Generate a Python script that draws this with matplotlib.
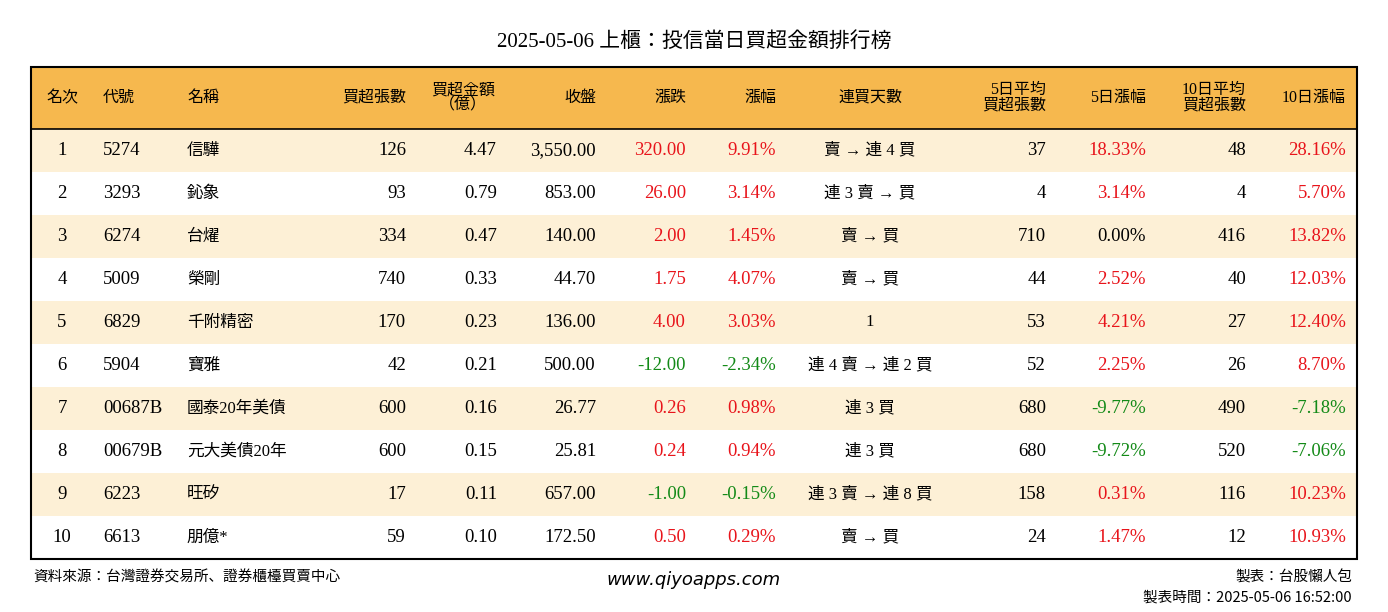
import matplotlib
matplotlib.use("Agg")
import matplotlib.pyplot as plt
from matplotlib.patches import Rectangle
from matplotlib import font_manager

title = "2025-05-06 上櫃：投信當日買超金額排行榜"
headers = ["名次", "代號", "名稱", "買超張數", "買超金額\n（億）", "收盤", "漲跌", "漲幅", "連買天數",
           "5日平均\n買超張數", "5日漲幅", "10日平均\n買超張數", "10日漲幅"]
ranks = [1, 2, 3, 4, 5, 6, 7, 8, 9, 10]
codes = ["5274", "3293", "6274", "5009", "6829", "5904", "00687B", "00679B", "6223", "6613"]
names = ["信驊", "鈊象", "台燿", "榮剛", "千附精密", "寶雅", "國泰20年美債", "元大美債20年", "旺矽", "朋億*"]
buy_vol = [126, 93, 334, 740, 170, 42, 600, 600, 17, 59]
buy_amt = [4.47, 0.79, 0.47, 0.33, 0.23, 0.21, 0.16, 0.15, 0.11, 0.10]
close = [3550.00, 853.00, 140.00, 44.70, 136.00, 500.00, 26.77, 25.81, 657.00, 172.50]
change = [320.00, 26.00, 2.00, 1.75, 4.00, -12.00, 0.26, 0.24, -1.00, 0.50]
pct = [9.91, 3.14, 1.45, 4.07, 3.03, -2.34, 0.98, 0.94, -0.15, 0.29]
streak = ["賣 → 連 4 買", "連 3 賣 → 買", "賣 → 買", "賣 → 買", "1", "連 4 賣 → 連 2 買",
          "連 3 買", "連 3 買", "連 3 賣 → 連 8 買", "賣 → 買"]
avg5 = [37, 4, 710, 44, 53, 52, 680, 680, 158, 24]
pct5 = [18.33, 3.14, 0.00, 2.52, 4.21, 2.25, -9.77, -9.72, 0.31, 1.47]
avg10 = [48, 4, 416, 40, 27, 26, 490, 520, 116, 12]
pct10 = [28.16, 5.70, 13.82, 12.03, 12.40, 8.70, -7.18, -7.06, 10.23, 10.93]

names_avail = {f.name for f in font_manager.fontManager.ttflist}
CJK = next((n for n in ["Noto Sans CJK TC", "Noto Sans CJK JP", "Noto Sans CJK SC"] if n in names_avail),
           "Noto Sans CJK JP")
SERIF = "Liberation Serif"
RED, GREEN = "#E8141B", "#138A17"

def col(v):
    return RED if v > 0 else (GREEN if v < 0 else "black")

fig = plt.figure(figsize=(13.88, 6.12), dpi=100)
ax = fig.add_axes([0, 0, 1, 1])
ax.set_xlim(0, 1388); ax.set_ylim(612, 0); ax.axis("off")

ax.text(694, 42, title, ha="center", va="center", fontsize=15, fontfamily=[SERIF, CJK])

L, R, T, HB = 31, 1357, 67, 129
rh = 43
ax.add_patch(Rectangle((L, T), R - L, HB - T, facecolor="#F6B84E", edgecolor="none"))
for i in range(len(ranks)):
    if i % 2 == 0:
        ax.add_patch(Rectangle((L, HB + i * rh), R - L, rh, facecolor="#FDF0D6", edgecolor="none"))
bottom = HB + len(ranks) * rh
ax.add_patch(Rectangle((L, T), R - L, bottom - T, facecolor="none", edgecolor="black", lw=1.5))
ax.plot([L, R], [HB, HB], color="black", lw=1.2)

cols = [(62, "center"), (103, "left"), (187, "left"), (406, "right"), (463, "center"), (596, "right"),
        (686, "right"), (776, "right"), (870, "center"), (1046, "right"), (1146, "right"),
        (1246, "right"), (1346, "right")]
hy = (T + HB) / 2
for (x, ha), h in zip(cols, headers):
    ax.text(x, hy, h, ha=ha, va="center", fontsize=11.5, fontfamily=[SERIF, CJK], linespacing=0.95)

for i in range(len(ranks)):
    y = HB + i * rh + rh / 2
    cells = [
        (str(ranks[i]), "black"), (codes[i], "black"), (names[i], "black"),
        (f"{buy_vol[i]}", "black"), (f"{buy_amt[i]:.2f}", "black"),
        (f"{close[i]:,.2f}", "black"), (f"{change[i]:.2f}", col(change[i])),
        (f"{pct[i]:.2f}%", col(pct[i])), (streak[i], "black"),
        (f"{avg5[i]}", "black"), (f"{pct5[i]:.2f}%", col(pct5[i])),
        (f"{avg10[i]}", "black"), (f"{pct10[i]:.2f}%", col(pct10[i])),
    ]
    for j, ((x, ha), (t, c)) in enumerate(zip(cols, cells)):
        if j == 4:
            x, ha = 497, "right"
        fs = 12 if j in (2, 8) else 13.5
        ax.text(x, y, t, ha=ha, va="center", fontsize=fs, color=c, fontfamily=[SERIF, CJK])

ax.text(33, 577, "資料來源：台灣證券交易所、證券櫃檯買賣中心", ha="left", va="center", fontsize=10.5, fontfamily=[CJK])
ax.text(694, 580, "www.qiyoapps.com", ha="center", va="center", fontsize=13, style="italic", fontfamily="DejaVu Sans")
ax.text(1352, 577, "製表：台股懶人包", ha="right", va="center", fontsize=10.5, fontfamily=[CJK])
ax.text(1352, 598, "製表時間：2025-05-06 16:52:00", ha="right", va="center", fontsize=10.5, fontfamily=[CJK])

fig.savefig("out.png", dpi=100, facecolor="white")
